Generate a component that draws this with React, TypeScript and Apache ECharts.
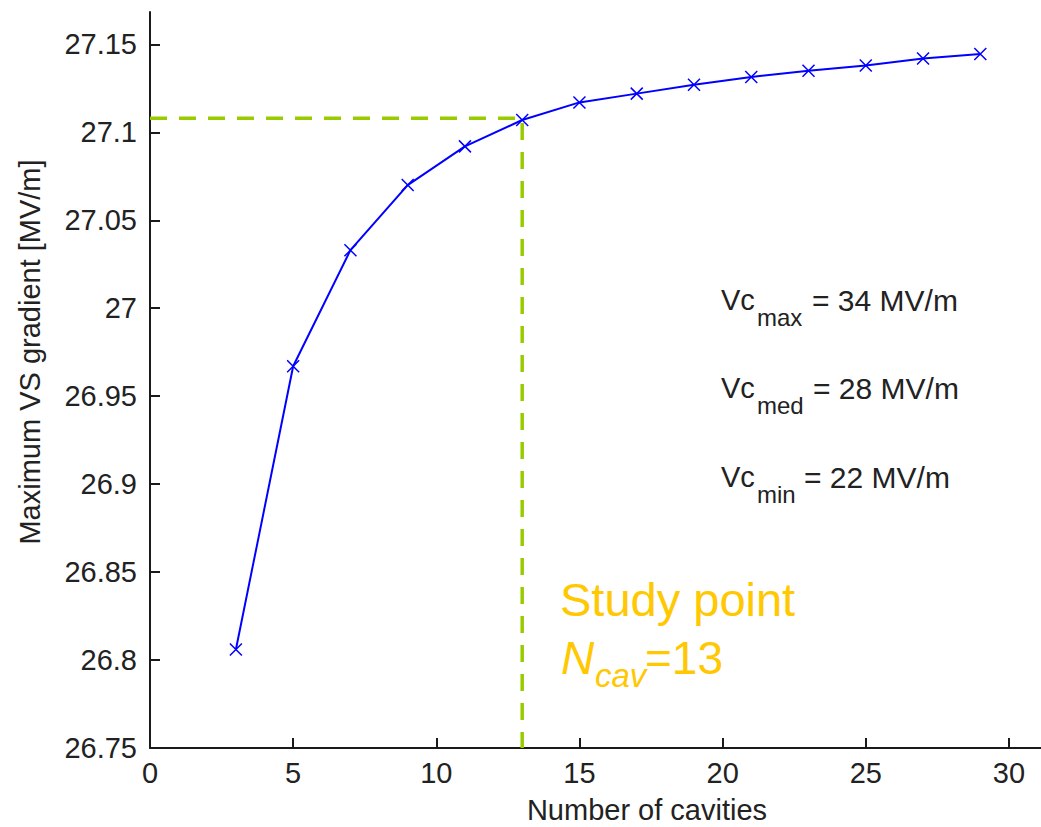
import React, { useEffect, useRef } from "react";
import * as echarts from "echarts";

const cavities = [3, 5, 7, 9, 11, 13, 15, 17, 19, 21, 23, 25, 27, 29];
const gradient = [26.806, 26.967, 27.033, 27.070, 27.092, 27.107, 27.117, 27.122, 27.127, 27.1315, 27.135, 27.138, 27.142, 27.1445];
const xTicks = [0, 5, 10, 15, 20, 25, 30];
const yTicks = [26.75, 26.8, 26.85, 26.9, 26.95, 27, 27.05, 27.1, 27.15];
const studyN = 13;
const studyGradient = 27.108;
const vcLabels = [
  { sub: "max", rest: "= 34 MV/m" },
  { sub: "med", rest: "= 28 MV/m" },
  { sub: "min", rest: "= 22 MV/m" },
];
const xTitle = "Number of cavities";
const yTitle = "Maximum VS gradient [MV/m]";

const FONT = "'Liberation Sans', Arial, sans-serif";
const TXT = "#222222";
const GOLD = "#FFC800";

export default function App() {
  const ref = useRef<HTMLDivElement>(null);
  useEffect(() => {
    if (!ref.current) return;
    const chart = echarts.init(ref.current, null, { renderer: "svg" });
    const restX = [812, 813, 804];
    const baseY = [300, 388, 477];
    const vcGraphics: any[] = [];
    vcLabels.forEach((v, i) => {
      vcGraphics.push({
        type: "text", x: 721, y: baseY[i],
        style: { text: "Vc", font: `29px ${FONT}`, fill: TXT, textAlign: "left", textVerticalAlign: "middle" },
      });
      vcGraphics.push({
        type: "text", x: 757, y: baseY[i] + 17,
        style: { text: v.sub, font: `24px ${FONT}`, fill: TXT, textAlign: "left", textVerticalAlign: "middle" },
      });
      vcGraphics.push({
        type: "text", x: restX[i], y: baseY[i],
        style: { text: v.rest, font: `30px ${FONT}`, fill: TXT, textAlign: "left", textVerticalAlign: "middle" },
      });
    });
    const option: any = {
      animation: false,
      backgroundColor: "#ffffff",
      grid: { left: 150, right: 0, top: 12, bottom: 79, containLabel: false },
      xAxis: {
        type: "value",
        min: 0,
        max: 31.12,
        interval: 5,
        axisLine: { show: true, lineStyle: { color: "#1a1a1a", width: 2 } },
        axisTick: { show: true, inside: true, length: 10, customValues: xTicks, lineStyle: { color: "#1a1a1a", width: 2 } },
        axisLabel: { customValues: xTicks, margin: 10, fontSize: 29, fontFamily: FONT, color: TXT },
        splitLine: { show: false },
      },
      yAxis: {
        type: "value",
        min: 26.75,
        max: 27.1684,
        axisLine: { show: true, onZero: false, lineStyle: { color: "#1a1a1a", width: 2 } },
        axisTick: { show: true, inside: true, length: 10, customValues: yTicks, lineStyle: { color: "#1a1a1a", width: 2 } },
        axisLabel: {
          customValues: yTicks, margin: 13, fontSize: 29, fontFamily: FONT, color: TXT,
          formatter: (v: number) => String(+Number(v).toFixed(2)),
        },
        splitLine: { show: false },
      },
      series: [
        {
          type: "line",
          data: [[0, studyGradient], [studyN, studyGradient], [studyN, 26.75]],
          symbol: "none",
          lineStyle: { color: "#99CC00", width: 3.5, type: [17, 12] },
          z: 1,
        },
        {
          type: "line",
          data: cavities.map((c, i) => [c, gradient[i]]),
          symbol: "path://M0,0L10,10M10,0L0,10",
          symbolSize: 12,
          showSymbol: true,
          itemStyle: { color: "rgba(0,0,0,0)", borderColor: "#0000FF", borderWidth: 1.5 },
          lineStyle: { color: "#0000FF", width: 2 },
          z: 2,
        },
      ],
      graphic: [
        {
          type: "text", x: 30, y: 352, rotation: Math.PI / 2,
          style: { text: yTitle, font: `29px ${FONT}`, fill: TXT, textAlign: "center", textVerticalAlign: "middle" },
        },
        {
          type: "text", x: 647, y: 810,
          style: { text: xTitle, font: `29px ${FONT}`, fill: TXT, textAlign: "center", textVerticalAlign: "middle" },
        },
        ...vcGraphics,
        {
          type: "text", x: 560, y: 599,
          style: { text: "Study point", font: `47px ${FONT}`, fill: GOLD, textAlign: "left", textVerticalAlign: "middle" },
        },
        {
          type: "text", x: 561, y: 658,
          style: { text: "N", font: `italic 46px ${FONT}`, fill: GOLD, textAlign: "left", textVerticalAlign: "middle" },
        },
        {
          type: "text", x: 595, y: 675,
          style: { text: "cav", font: `italic 33px ${FONT}`, fill: GOLD, textAlign: "left", textVerticalAlign: "middle" },
        },
        {
          type: "text", x: 645, y: 658,
          style: { text: "=" + studyN, font: `46px ${FONT}`, fill: GOLD, textAlign: "left", textVerticalAlign: "middle" },
        },
      ],
    };
    chart.setOption(option);
    return () => chart.dispose();
  }, []);
  return (
    <div
      ref={ref}
      style={{ position: "fixed", left: 0, top: 0, width: 1041, height: 827, background: "#fff" }}
    />
  );
}
